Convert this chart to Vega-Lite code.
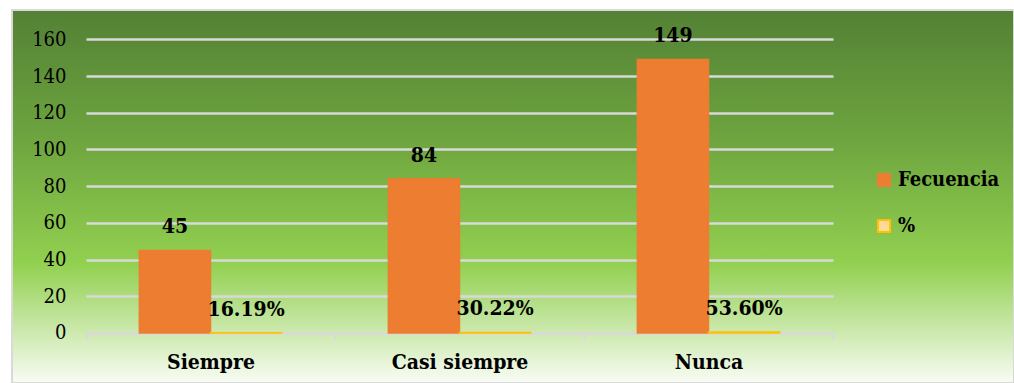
{
  "$schema": "https://vega.github.io/schema/vega-lite/v6.json",
  "width": 1002,
  "height": 373,
  "autosize": {"type": "none"},
  "padding": {"left": 12, "top": 10, "right": 0, "bottom": 0},
  "background": "#ffffff",
  "config": {
    "font": "DejaVu Serif Condensed",
    "view": {
      "fill": {"gradient": "linear", "x1": 0, "y1": 0, "x2": 0, "y2": 1,
        "stops": [
          {"offset": 0, "color": "#538135"},
          {"offset": 0.35, "color": "#6ea53f"},
          {"offset": 0.68, "color": "#92d050"},
          {"offset": 1, "color": "#f8fcf4"}
        ]},
      "stroke": "#d9d9d9",
      "strokeWidth": 2
    }
  },
  "data": {
    "values": [
      {"categoria": "Siempre", "serie": "Fecuencia", "valor": 45, "etiqueta": "45"},
      {"categoria": "Siempre", "serie": "%", "valor": 0.1619, "etiqueta": "16.19%"},
      {"categoria": "Casi siempre", "serie": "Fecuencia", "valor": 84, "etiqueta": "84"},
      {"categoria": "Casi siempre", "serie": "%", "valor": 0.3022, "etiqueta": "30.22%"},
      {"categoria": "Nunca", "serie": "Fecuencia", "valor": 149, "etiqueta": "149"},
      {"categoria": "Nunca", "serie": "%", "valor": 0.536, "etiqueta": "53.60%"}
    ]
  },
  "encoding": {
    "x": {
      "field": "categoria", "type": "nominal", "sort": ["Siempre", "Casi siempre", "Nunca"],
      "scale": {"range": [74, 821], "paddingInner": 0, "paddingOuter": 0},
      "axis": {
        "title": null, "orient": "bottom", "offset": -50, "labelAngle": 0,
        "labelFont": "DejaVu Serif Condensed", "labelFontSize": 21, "labelFontWeight": "bold", "labelColor": "#000000",
        "labelPadding": 11, "tickBand": "extent", "tickSize": 7, "tickColor": "#d9d9d9", "tickWidth": 2,
        "domainColor": "#d9d9d9", "domainWidth": 2, "grid": false
      }
    },
    "xOffset": {
      "field": "serie", "type": "nominal", "sort": ["Fecuencia", "%"],
      "scale": {"paddingInner": 0, "paddingOuter": 0.75}
    },
    "y": {
      "field": "valor", "type": "quantitative",
      "scale": {"domain": [-27.24, 175.96], "nice": false, "zero": false},
      "axis": {
        "title": null, "values": [0, 20, 40, 60, 80, 100, 120, 140, 160],
        "offset": -54, "ticks": false, "tickSize": 0, "labelPadding": 0, "domain": false,
        "labelFont": "DejaVu Serif Condensed", "labelFontSize": 20, "labelColor": "#000000",
        "grid": true, "gridColor": "#d9d9d9", "gridWidth": 2.5
      }
    }
  },
  "layer": [
    {
      "mark": {"type": "bar", "strokeWidth": 1.5},
      "encoding": {
        "fill": {
          "field": "serie", "type": "nominal",
          "scale": {"domain": ["Fecuencia", "%"], "range": ["#ed7d31", "#ffd99a"]},
          "legend": {
            "title": null, "orient": "none", "legendX": 862, "legendY": 160,
            "symbolType": "square", "symbolSize": 150, "symbolStrokeWidth": 2,
            "labelFont": "DejaVu Serif Condensed", "labelFontSize": 20, "labelFontWeight": "bold", "labelColor": "#000000",
            "labelOffset": 4, "rowPadding": 24, "padding": 0
          }
        },
        "stroke": {
          "field": "serie", "type": "nominal",
          "scale": {"domain": ["Fecuencia", "%"], "range": ["#ed7d31", "#ffc000"]},
          "legend": {
            "title": null, "orient": "none", "legendX": 862, "legendY": 160,
            "symbolType": "square", "symbolSize": 150, "symbolStrokeWidth": 2,
            "labelFont": "DejaVu Serif Condensed", "labelFontSize": 20, "labelFontWeight": "bold", "labelColor": "#000000",
            "labelOffset": 4, "rowPadding": 24, "padding": 0
          }
        }
      }
    },
    {
      "mark": {"type": "text", "baseline": "middle", "align": "center", "dy": -23,
        "font": "DejaVu Serif Condensed", "fontSize": 21, "fontWeight": "bold", "color": "#000000"},
      "encoding": {
        "text": {"field": "etiqueta", "type": "nominal"}
      }
    }
  ]
}
